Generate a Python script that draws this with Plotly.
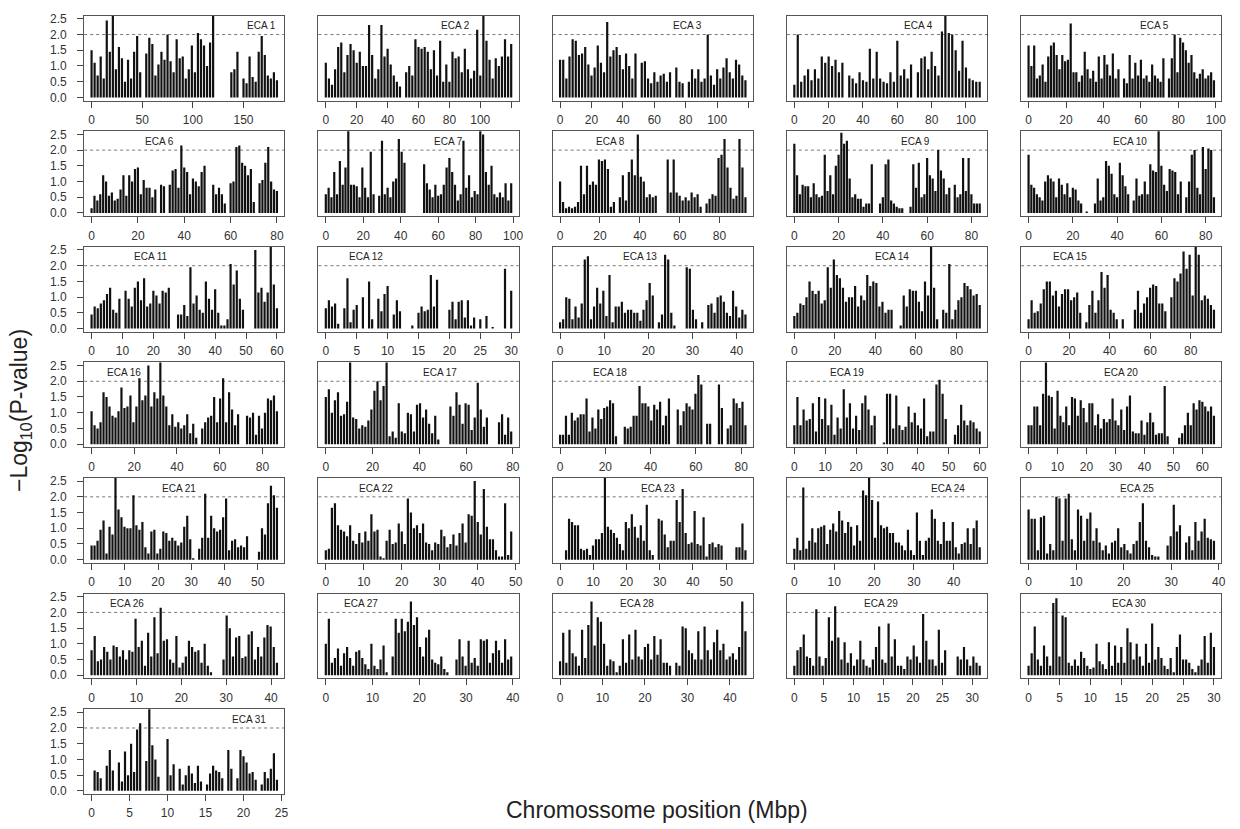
import plotly.graph_objects as go

# ---- -log10(P) values per chromosome, sampled along each chromosome (None = no markers) ----
H1 = [1.5,1.1,0.7,1.3,0.6,2.45,1.45,3.0,0.9,1.6,1.25,0.5,1.2,0.6,1.45,1.95,0.8,None,1.4,1.9,1.7,0.7,1.05,1.45,1.2,2.0,1.15,0.8,1.85,1.25,1.3,0.6,0.9,1.65,0.8,2.05,1.85,1.65,1.0,1.75,3.0,None,None,None,None,None,0.8,0.9,1.45,None,0.6,0.45,1.3,0.65,0.5,1.45,1.95,1.35,0.7,0.6,0.8,0.55]
H2 = [1.1,0.6,0.4,0.9,1.6,1.75,0.8,1.35,1.7,1.5,1.1,1.45,1.0,1.0,2.3,1.35,0.6,0.9,2.3,1.3,1.55,1.05,0.7,0.5,0.35,None,0.8,1.0,0.7,1.85,1.6,1.55,1.6,1.45,0.9,1.5,0.7,1.8,0.5,1.05,0.5,1.45,1.25,1.3,0.8,1.55,0.9,0.6,0.85,2.15,0.7,3.0,1.8,1.2,0.6,1.25,1.0,1.3,1.85,1.3,1.7]
H3 = [1.2,1.2,0.6,1.3,1.85,1.8,1.35,1.4,1.6,1.05,0.7,0.95,1.65,1.1,0.8,2.4,1.3,1.5,1.6,1.35,0.9,1.4,1.0,0.6,1.4,None,1.1,1.15,0.6,0.45,0.8,0.5,0.7,0.75,0.5,0.8,None,0.95,0.5,0.45,None,0.5,0.9,0.6,0.9,0.5,0.6,2.0,0.7,0.4,0.9,0.6,0.95,1.25,0.8,0.6,1.2,1.05,0.7,0.55]
H4 = [0.4,2.0,0.5,0.7,0.9,0.55,0.9,0.6,1.3,1.1,1.3,1.0,1.2,0.8,1.1,None,0.7,0.6,0.45,0.8,0.55,0.5,1.55,0.6,1.45,0.6,0.5,0.45,0.8,0.5,1.8,0.7,0.9,0.6,1.05,None,0.8,1.25,1.3,0.9,1.45,1.0,0.7,2.1,3.0,2.05,2.0,1.5,0.85,1.8,0.95,0.6,0.55,0.5,0.5]
H5 = [1.65,1.0,1.65,0.6,0.7,1.05,0.5,1.3,1.65,1.75,1.35,0.9,1.35,1.15,1.2,2.35,0.8,0.8,0.5,0.7,1.45,0.9,0.6,0.85,0.5,1.3,0.6,1.35,1.05,0.7,1.4,0.6,0.9,None,0.6,0.45,1.35,0.6,1.1,0.7,1.2,0.6,0.7,0.5,1.05,0.7,0.6,0.5,1.25,None,0.6,1.25,2.0,0.8,1.9,1.75,1.5,1.1,1.35,0.8,0.6,0.75,0.9,0.6,0.7,0.8,0.55]
H6 = [0.15,0.55,0.4,0.6,1.2,1.0,0.55,0.65,0.4,0.45,0.75,1.2,0.55,1.2,1.0,1.4,1.45,0.6,1.05,0.8,0.8,0.5,0.75,None,0.9,0.85,None,0.9,1.35,1.4,0.8,2.15,1.45,1.3,0.6,1.1,1.0,0.85,1.3,1.5,None,None,0.9,0.6,0.8,0.6,0.3,None,0.95,1.0,2.1,2.15,1.6,1.5,1.2,1.4,0.35,None,0.95,1.05,1.6,2.1,1.0,0.75,0.7]
H7 = [0.6,0.8,0.5,1.3,0.6,1.65,0.9,1.45,3.0,0.9,0.9,0.85,0.5,1.45,0.8,0.5,1.95,0.6,None,0.55,2.3,0.6,0.8,0.5,1.0,1.1,2.35,1.95,1.6,None,None,None,None,None,None,1.55,0.95,0.75,0.5,0.9,0.55,0.6,0.9,1.45,1.75,1.3,0.9,0.4,0.6,2.3,0.8,1.2,0.5,0.7,0.6,3.0,2.5,1.3,0.9,1.5,0.6,0.5,0.65,0.5,0.95,0.4,0.95]
H8 = [1.0,0.35,0.15,0.2,0.15,0.2,0.35,1.5,0.6,1.5,0.9,1.0,0.9,1.7,1.65,1.7,1.4,0.2,0.35,None,0.5,1.2,0.4,1.3,1.7,1.2,2.5,1.15,1.0,0.5,0.6,0.5,0.55,None,None,None,1.7,0.65,1.7,0.65,0.55,0.4,0.5,0.4,0.65,0.5,0.6,0.2,None,0.3,0.45,0.6,0.55,1.75,1.85,2.35,1.45,0.8,0.45,0.55,2.35,1.45,0.5]
H9 = [2.2,1.2,0.6,0.9,0.85,0.85,0.5,0.95,0.6,0.5,0.55,1.85,0.7,1.2,0.6,1.5,1.85,2.55,2.2,2.3,1.1,0.5,0.6,0.45,0.45,0.2,0.3,0.3,1.55,None,None,0.3,0.5,1.55,1.7,0.4,0.3,0.2,0.15,0.15,None,None,0.2,1.55,0.8,1.6,0.5,0.6,1.75,1.2,1.1,0.7,2.0,1.35,1.1,0.6,0.8,None,0.9,0.5,0.6,1.75,0.7,1.75,0.6,0.3,0.3,0.3]
H10 = [1.85,0.9,0.8,0.6,0.5,0.4,1.0,1.2,1.1,1.0,0.5,1.1,0.9,0.6,0.95,0.5,0.8,0.75,0.4,0.3,None,0.05,None,None,0.3,1.1,0.4,0.5,1.65,1.5,1.25,0.6,0.5,1.6,1.2,0.85,0.6,None,0.4,1.1,0.55,0.6,1.0,0.6,1.55,1.35,1.3,3.0,1.5,0.9,0.7,1.4,1.35,1.3,0.6,1.0,None,0.5,1.0,1.85,2.0,0.8,0.6,2.1,1.4,2.05,2.0,0.5]
H11 = [0.45,0.7,0.65,0.8,0.9,1.1,1.3,0.6,0.5,0.95,None,1.2,0.95,0.7,1.3,1.5,0.9,1.6,0.7,0.8,1.2,1.05,0.8,1.2,1.15,1.3,None,None,0.45,0.45,0.75,0.4,1.95,0.8,1.05,0.6,0.5,1.5,0.95,0.6,1.25,0.5,0.1,0.1,0.3,2.05,1.4,1.85,0.95,0.6,None,None,None,2.5,1.15,1.3,0.85,1.15,3.0,1.4,0.65]
H12 = [0.65,0.9,0.7,0.8,0.15,None,0.65,1.6,0.2,0.6,0.75,None,1.0,None,1.5,0.3,None,0.95,0.55,1.1,1.35,None,0.45,0.9,0.55,None,None,None,0.1,None,0.5,0.7,0.55,0.6,1.7,0.7,1.55,None,None,None,0.6,0.85,0.3,0.85,0.9,0.35,0.9,0.1,0.35,None,0.3,None,0.4,None,0.05,None,None,None,1.9,None,1.2]
H13 = [0.2,0.3,1.0,0.95,0.3,0.7,0.35,0.8,2.2,2.3,0.3,0.7,1.3,0.8,1.2,0.4,1.7,0.2,0.7,0.7,0.85,0.5,0.6,0.6,0.5,0.5,0.25,0.6,0.9,1.45,1.05,None,0.2,0.45,2.35,2.2,0.5,0.1,None,None,None,1.95,1.9,0.6,0.3,None,0.2,None,0.75,0.8,0.5,1.0,1.05,0.85,0.5,0.4,1.2,0.7,0.35,0.6,0.45]
H14 = [0.4,0.5,0.8,0.75,1.0,1.5,1.2,1.1,1.2,0.8,0.9,1.95,1.3,2.2,1.7,1.6,1.3,0.85,1.0,1.0,1.35,0.7,1.05,0.9,1.7,1.35,1.5,1.45,0.7,0.85,0.5,0.6,0.6,None,None,0.1,1.05,0.7,1.25,1.2,1.2,0.85,0.55,1.5,1.05,3.0,1.3,0.3,None,0.6,0.5,2.05,0.3,0.6,0.9,1.0,1.45,1.35,1.25,1.05,1.1,0.75]
H15 = [0.3,0.9,0.5,0.55,0.8,1.25,1.5,1.5,1.05,1.2,0.7,1.1,1.25,1.25,0.9,1.0,1.15,0.5,None,0.2,0.75,1.2,0.5,0.9,1.8,1.3,1.7,0.6,0.5,0.3,None,0.3,None,None,None,0.6,1.2,0.5,0.8,1.0,1.3,1.4,1.35,0.8,0.8,0.55,None,1.0,1.6,1.5,1.75,2.45,1.9,2.35,1.05,3.0,2.35,0.9,1.05,0.95,0.75,0.6]
H16 = [1.05,0.6,0.5,0.7,1.65,1.5,1.2,0.9,0.85,1.05,1.8,1.15,1.2,1.55,0.7,1.2,2.1,1.4,1.55,2.5,1.2,1.65,1.45,3.0,1.55,1.2,0.6,0.95,0.55,0.7,0.5,0.6,0.95,0.35,0.65,0.2,None,0.5,0.7,0.85,0.9,1.5,0.7,1.45,2.1,0.7,1.65,1.1,0.6,0.95,None,None,0.9,0.85,1.0,0.3,0.9,0.5,1.0,1.45,1.4,1.55,1.05]
H17 = [1.5,1.75,1.0,1.4,1.65,0.9,0.95,1.35,3.0,0.85,0.8,0.5,0.6,0.55,0.75,1.1,1.7,2.0,1.4,1.85,3.0,0.25,0.4,0.2,1.3,0.4,0.35,1.0,0.95,0.4,1.25,1.3,0.85,1.1,0.65,0.35,0.9,0.15,None,None,None,1.2,0.9,1.65,1.25,0.65,1.3,1.25,0.45,0.85,1.95,1.1,0.55,0.85,None,None,None,0.7,0.95,0.3,0.85,0.4]
H18 = [0.3,0.3,0.9,0.3,1.0,0.75,0.85,0.95,0.95,1.45,0.4,0.85,0.5,1.1,0.8,1.15,1.2,1.4,1.3,0.25,None,None,0.55,0.5,0.55,0.9,0.9,1.85,1.3,1.3,1.2,0.75,1.25,1.1,1.35,0.6,0.9,1.45,None,None,1.1,0.6,1.05,1.3,1.2,1.1,1.6,2.2,1.9,None,0.65,0.65,None,None,1.9,1.15,None,0.5,0.6,1.45,1.3,1.15,1.35,0.6]
H19 = [0.6,1.5,0.6,1.1,0.75,0.8,1.3,0.4,1.5,0.8,1.45,0.6,1.25,0.3,0.85,0.5,1.75,0.85,1.3,0.5,0.9,0.45,1.3,1.55,1.1,0.6,0.9,None,None,0.05,1.6,1.6,0.5,1.55,0.6,0.45,0.55,1.2,0.7,1.0,0.6,0.5,1.45,0.25,0.4,0.4,1.9,2.05,1.6,0.8,None,None,0.3,0.6,1.25,0.75,0.6,0.75,0.7,0.5,0.4]
H20 = [0.6,0.6,1.2,1.2,0.6,1.6,3.0,1.55,1.5,0.5,1.7,0.9,0.7,1.2,0.6,1.5,1.45,0.9,1.4,1.15,0.7,1.3,1.3,0.6,0.95,0.5,0.8,0.7,0.8,1.45,0.75,0.6,1.1,0.45,1.2,1.55,0.4,0.35,0.35,0.75,0.3,0.7,1.0,0.7,0.3,0.35,0.35,1.85,0.25,None,None,None,0.2,0.35,0.6,1.0,0.6,1.3,1.1,1.4,1.35,1.2,1.05,1.2,0.9]
H21 = [0.45,0.45,0.6,0.95,1.25,0.2,1.05,0.8,3.0,1.6,1.35,1.05,1.0,1.0,2.05,1.1,0.95,1.2,0.4,0.2,0.9,0.95,0.2,0.35,0.9,0.85,0.6,0.7,0.6,0.45,0.55,1.05,1.4,0.65,0.05,None,0.35,0.7,2.1,0.7,1.4,1.0,0.9,0.95,1.35,1.95,0.3,0.6,0.65,0.4,0.45,0.4,0.75,None,None,None,0.25,1.0,0.8,1.8,2.35,2.05,1.65]
H22 = [0.3,0.35,1.65,1.8,1.1,0.95,0.9,0.75,1.1,0.6,0.5,0.85,0.55,0.9,0.6,1.45,0.9,0.95,0.1,0.05,0.6,0.95,0.5,0.55,1.15,0.9,0.5,1.95,1.5,1.0,1.1,0.85,1.15,0.55,0.5,0.3,0.55,0.5,0.95,0.75,0.4,0.5,0.8,0.45,0.85,1.15,0.55,1.45,1.4,2.5,1.2,0.8,2.25,1.05,0.65,0.65,0.3,0.1,0.1,1.8,0.15,0.9]
H23 = [None,None,0.3,1.3,1.2,1.1,1.1,0.35,0.3,0.35,0.15,0.45,0.65,0.65,0.85,3.0,1.05,0.95,0.85,0.7,0.5,0.3,1.2,1.0,1.45,1.05,0.7,1.1,0.6,1.75,0.3,0.15,None,1.3,1.25,0.8,0.4,0.6,0.6,1.9,1.2,2.25,0.85,0.5,0.55,1.55,0.5,0.45,1.35,0.1,0.5,0.55,0.4,0.5,0.45,None,None,None,None,0.4,0.4,1.15,0.3]
H24 = [0.35,0.7,0.3,2.3,0.35,0.6,1.0,0.55,1.0,1.05,1.1,0.5,0.95,1.15,0.9,1.55,1.25,0.85,1.2,1.05,0.45,1.1,0.6,2.2,2.05,3.0,1.9,0.7,1.85,1.1,1.0,1.05,0.85,0.85,0.55,0.55,0.45,0.3,0.95,0.3,0.15,1.5,0.6,0.15,0.6,0.7,1.6,1.3,0.6,0.5,1.2,0.6,0.6,1.2,0.4,0.2,0.5,0.55,1.0,0.5,1.0,1.25,0.4]
H25 = [1.6,1.3,1.3,0.3,1.35,1.4,0.2,0.5,0.3,2.0,1.95,0.6,1.95,2.1,0.65,0.3,1.6,1.4,0.6,1.3,1.5,0.6,1.0,0.55,0.3,0.45,0.2,0.55,0.6,1.0,0.4,0.5,0.3,0.2,0.5,0.6,1.2,1.8,0.6,0.4,0.15,0.1,0.1,None,None,0.45,0.75,1.75,0.9,1.1,None,0.55,0.75,0.3,1.2,0.6,0.9,1.3,0.7,0.65,0.6]
H26 = [0.8,1.25,0.45,0.5,0.9,0.75,0.5,0.95,0.9,0.6,0.8,0.5,0.8,0.75,1.8,0.9,1.1,0.3,1.35,0.6,1.85,0.7,2.15,1.1,1.15,0.5,0.4,1.25,0.25,0.4,0.6,1.1,0.9,0.75,0.8,0.4,1.0,0.3,0.1,None,None,None,0.5,1.9,1.5,0.6,1.2,1.25,0.55,0.6,1.3,1.4,0.5,0.9,0.6,1.2,1.6,1.55,0.9,0.4]
H27 = [1.0,1.8,0.4,0.55,0.85,0.3,0.7,0.9,0.55,0.3,0.75,0.8,0.55,0.35,0.2,1.0,0.3,0.2,0.5,0.95,0.1,None,0.6,1.8,1.35,1.8,1.4,1.7,2.35,1.6,1.85,0.9,0.6,1.2,1.45,0.5,0.4,0.35,0.6,0.2,0.1,None,None,0.5,1.15,0.6,0.3,1.1,0.4,0.55,0.3,1.15,1.1,1.15,0.4,0.7,1.1,0.8,0.4,1.15,0.5,0.6]
H28 = [0.45,1.35,0.4,1.45,0.7,0.6,0.3,1.45,0.55,1.6,2.35,0.95,1.85,1.7,1.0,0.3,0.5,0.45,0.1,0.3,1.15,0.4,1.3,0.5,1.45,0.6,0.5,0.9,1.0,0.5,1.25,0.65,1.15,0.4,0.4,0.3,None,0.4,0.3,1.55,1.5,0.8,0.7,0.5,1.4,0.5,1.55,0.8,0.5,1.05,1.45,0.8,1.0,0.5,0.6,0.7,0.5,0.9,2.35,1.4]
H29 = [0.3,0.8,0.9,1.3,0.6,0.55,0.3,2.1,0.6,0.3,0.55,1.85,1.1,2.2,1.2,0.5,1.05,0.4,0.7,0.3,0.5,1.1,0.5,0.3,0.25,0.5,0.9,1.55,0.5,0.4,1.65,0.6,1.15,0.3,0.3,0.2,0.6,0.5,0.95,0.6,0.4,1.95,1.1,0.5,0.5,0.3,1.45,0.4,0.8,None,None,None,0.6,0.5,0.9,0.5,0.3,0.6,0.4,0.3]
H30 = [0.3,0.7,1.55,0.5,0.3,0.95,0.6,0.3,2.3,2.45,0.6,1.9,1.85,0.4,0.3,0.5,0.3,0.75,0.55,0.3,0.2,0.25,1.0,0.45,0.35,0.2,1.05,0.3,0.95,0.4,0.9,0.4,1.5,1.05,0.5,1.0,0.6,0.3,1.0,0.4,1.65,0.5,0.9,0.55,0.3,0.2,0.55,0.1,0.9,1.3,0.5,0.5,0.4,0.2,0.1,0.3,0.5,1.25,0.4,1.35,0.9]
H31 = [None,0.65,0.6,0.4,None,0.8,1.3,0.65,None,0.9,0.3,1.25,0.5,1.5,0.6,1.95,2.15,None,0.95,3.0,1.45,1.0,0.45,None,None,1.65,0.5,0.85,None,0.7,0.2,0.5,0.8,0.55,0.25,0.8,0.3,None,0.2,0.55,0.8,0.65,0.6,0.4,None,1.3,0.7,None,0.4,1.3,1.1,0.9,0.55,0.6,0.35,None,0.2,0.6,0.4,0.7,1.2,0.35]

# spacing (Mbp) between consecutive samples, per chromosome
STEPS = [3, 2, 2, 2, 1.5, 1.25, 1.5, 1.5, 1.25, 1.25, 1, 0.5, 0.7, 1.5, 1.5, 1.4, 1.3, 1.3,
         1, 1, 0.9, 0.8, 0.9, 0.75, 0.65, 0.7, 0.65, 0.74, 0.53, 0.5, 0.4]

CHROMS = ["ECA %d" % i for i in range(1, 32)]

T20_80 = [0, 20, 40, 60, 80]
T20_100 = [0, 20, 40, 60, 80, 100]
T10_60 = [0, 10, 20, 30, 40, 50, 60]
T10_50 = [0, 10, 20, 30, 40, 50]
T10_40 = [0, 10, 20, 30, 40]
T5_30 = [0, 5, 10, 15, 20, 25, 30]
TICKS = [[0, 50, 100, 150], T20_100, T20_100, T20_100, T20_100, T20_80, T20_100, T20_80,
         T20_80, T20_80, T10_60, T5_30, T10_40, T20_80, T20_80, T20_80, T20_80, T20_80,
         T10_60, T10_60, T10_50, T10_50, T10_50, T10_40, T10_40, T10_40, T10_40, T10_40,
         T5_30, T5_30, [0, 5, 10, 15, 20, 25]]
UNLABELED_TICKS = {2: [120], 3: [120]}   # tick marks drawn without a label

Y_TICKS = [0, 0.5, 1.0, 1.5, 2.0, 2.5]
Y_LABELS = ["0.0", "0.5", "1.0", "1.5", "2.0", "2.5"]
THRESHOLD = 2.0

# layout (pixels)
W, HGT = 1240, 829
TITLE_X_PX = [263, 457, 690, 922, 1159,
              160, 450, 613, 919, 1135,
              152, 367, 643, 896, 1074,
              124, 442, 612, 850, 1126,
              180, 378, 661, 952, 1142,
              128, 362, 640, 885, 1134,
              250]

HEIGHTS = [H1, H2, H3, H4, H5, H6, H7, H8, H9, H10, H11, H12, H13, H14, H15, H16,
           H17, H18, H19, H20, H21, H22, H23, H24, H25, H26, H27, H28, H29, H30, H31]

FONT = "Liberation Sans, Arial, Helvetica, sans-serif"
fig = go.Figure()
shapes, annos = [], []

for k in range(31):
    n = k + 1
    h = HEIGHTS[k]
    st = STEPS[k]
    xs = [i * st for i in range(len(h))]
    lx, ly = [], []
    for x, v in zip(xs, h):
        if v is not None:
            lx += [x, x, None]
            ly += [0, v, None]
    sfx = "" if n == 1 else str(n)
    fig.add_trace(go.Scatter(x=lx, y=ly, mode="lines",
                             line=dict(color="#111111", width=2.2),
                             xaxis="x" + sfx, yaxis="y" + sfx, showlegend=False,
                             name=CHROMS[k], hoverinfo="skip"))
    r, c = divmod(k, 5)
    left = 84.5 + 235.2 * c
    top = 11.8 + 116.7 * r
    bottom = 97.5 + 116.7 * r
    span = xs[-1] - xs[0]
    xr = [xs[0] - 0.04 * span, xs[-1] + 0.04 * span]
    tv = TICKS[k]
    xaxis = dict(
        domain=[left / W, (left + 201) / W], anchor="y" + sfx, range=xr,
        tickvals=tv, ticktext=[str(t) for t in tv], ticks="outside", ticklen=6, tickwidth=1,
        tickcolor="#444", showline=True, mirror=True, linecolor="#555", linewidth=1,
        showgrid=False, zeroline=False, ticklabelstandoff=2,
        tickfont=dict(family=FONT, size=12, color="#333"), fixedrange=True)
    if n in UNLABELED_TICKS:
        xaxis["minor"] = dict(tickvals=UNLABELED_TICKS[n], ticks="outside", ticklen=6,
                              tickwidth=1, tickcolor="#444", showgrid=False)
    fig.layout["xaxis" + sfx] = xaxis
    fig.layout["yaxis" + sfx] = dict(
        domain=[1 - bottom / HGT, 1 - top / HGT], anchor="x" + sfx, range=[-0.1, 2.6],
        tickvals=Y_TICKS, ticktext=Y_LABELS, ticks="outside" if c == 0 else "",
        ticklen=6, tickwidth=1, tickcolor="#444", showticklabels=(c == 0),
        showline=True, mirror=True, linecolor="#555", linewidth=1,
        showgrid=False, zeroline=False, ticklabelstandoff=8,
        tickfont=dict(family=FONT, size=12, color="#333"), fixedrange=True)
    shapes.append(dict(type="line", xref="x" + sfx + " domain", x0=0, x1=1,
                       yref="y" + sfx, y0=THRESHOLD, y1=THRESHOLD,
                       line=dict(color="#777", width=1, dash="dot"), layer="below"))
    annos.append(dict(text=CHROMS[k], xref="paper", yref="paper",
                      x=TITLE_X_PX[k] / W, y=1 - (22 + 116.7 * r) / HGT,
                      showarrow=False, xanchor="center", yanchor="middle",
                      font=dict(family=FONT, size=10, color="#222")))

annos.append(dict(text="Chromossome position (Mbp)", xref="paper", yref="paper",
                  x=660 / W, y=1 - 814 / HGT, showarrow=False, xanchor="center",
                  yanchor="middle", font=dict(family=FONT, size=23, color="#222")))
annos.append(dict(text="\u2212Log<sub>10</sub>(P-value)", xref="paper", yref="paper",
                  x=20 / W, y=1 - 410 / HGT, showarrow=False, textangle=-90,
                  xanchor="center", yanchor="middle",
                  font=dict(family=FONT, size=23, color="#222")))

fig.update_layout(width=W, height=HGT, margin=dict(l=0, r=0, t=0, b=0),
                  paper_bgcolor="white", plot_bgcolor="white",
                  shapes=shapes, annotations=annos)

fig.write_html("out.html", config={"displayModeBar": False},
               post_script="document.body.style.margin='0';")
